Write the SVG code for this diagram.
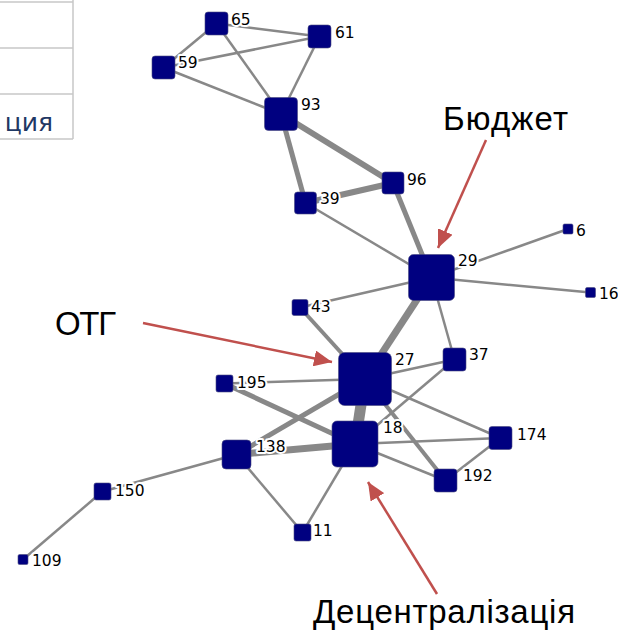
<svg xmlns="http://www.w3.org/2000/svg" width="618" height="632" viewBox="0 0 618 632">
<style>
.e{stroke:#888;stroke-linecap:butt;fill:none}
.w2{stroke-width:2.5}
.w4{stroke-width:4}
.w5{stroke-width:5}
.w6{stroke-width:6}
.w7{stroke-width:7}
.w11{stroke-width:11}
.n{fill:#000080;stroke:#4a4a80;stroke-width:0.6}
.l{font-family:"DejaVu Sans","Liberation Sans",sans-serif;font-size:15.5px;fill:#000;stroke:#fff;stroke-width:4;stroke-linejoin:round;paint-order:stroke}
.big{font-family:"Liberation Sans",Arial,sans-serif;font-size:33px;fill:#000}
.arr{stroke:#C0504D;stroke-width:2.5;fill:none}
.tb{stroke:#c8c8c8;stroke-width:1.5;fill:none}
</style>
<defs>
<marker id="ah" markerUnits="userSpaceOnUse" markerWidth="20" markerHeight="16" refX="18" refY="8" orient="auto">
<path d="M0,0 L18,8 L0,16 Z" fill="#C0504D"/>
</marker>
</defs>
<rect width="618" height="632" fill="#fff"/>
<g id="table">
<path class="tb" d="M0,2 H73 M0,48 H73 M0,94 H73 M0,139 H73 M73,0 V139"/>
<text x="53" y="131" text-anchor="end" font-family="'DejaVu Sans','Open Sans',sans-serif" font-size="25" fill="#1F3864">ция</text>
</g>
<g id="connectors">
<line class="e w2" x1="216.5" y1="23.5" x2="163.5" y2="67.5"/>
<line class="e w2" x1="216.5" y1="23.5" x2="319.5" y2="36.5"/>
<line class="e w2" x1="216.5" y1="23.5" x2="281" y2="114"/>
<line class="e w2" x1="163.5" y1="67.5" x2="319.5" y2="36.5"/>
<line class="e w2" x1="163.5" y1="67.5" x2="281" y2="114"/>
<line class="e w2" x1="319.5" y1="36.5" x2="281" y2="114"/>
<line class="e w5" x1="281" y1="114" x2="305.5" y2="203"/>
<line class="e w6" x1="281" y1="114" x2="393" y2="183"/>
<line class="e w6" x1="305.5" y1="203" x2="393" y2="183"/>
<line class="e w2" x1="305.5" y1="203" x2="431.5" y2="277.5"/>
<line class="e w5" x1="393" y1="183" x2="431.5" y2="277.5"/>
<line class="e w2" x1="431.5" y1="277.5" x2="568" y2="229"/>
<line class="e w2" x1="431.5" y1="277.5" x2="590.5" y2="292.5"/>
<line class="e w2" x1="431.5" y1="277.5" x2="300" y2="307.5"/>
<line class="e w7" x1="431.5" y1="277.5" x2="365" y2="379"/>
<line class="e w2" x1="431.5" y1="277.5" x2="454.5" y2="359.5"/>
<line class="e w4" x1="300" y1="307.5" x2="365" y2="379"/>
<line class="e w2" x1="365" y1="379" x2="454.5" y2="359.5"/>
<line class="e w2" x1="365" y1="379" x2="224.5" y2="383.5"/>
<line class="e w11" x1="365" y1="379" x2="355" y2="444"/>
<line class="e w5" x1="365" y1="379" x2="236.5" y2="454.5"/>
<line class="e w2" x1="365" y1="379" x2="500.5" y2="438"/>
<line class="e w4" x1="365" y1="379" x2="445.5" y2="480.5"/>
<line class="e w5" x1="224.5" y1="383.5" x2="355" y2="444"/>
<line class="e w2" x1="454.5" y1="359.5" x2="355" y2="444"/>
<line class="e w7" x1="355" y1="444" x2="236.5" y2="454.5"/>
<line class="e w2" x1="355" y1="444" x2="500.5" y2="438"/>
<line class="e w2" x1="355" y1="444" x2="445.5" y2="480.5"/>
<line class="e w2" x1="355" y1="444" x2="302.5" y2="532.5"/>
<line class="e w2" x1="500.5" y1="438" x2="445.5" y2="480.5"/>
<line class="e w2" x1="236.5" y1="454.5" x2="102.5" y2="491.5"/>
<line class="e w2" x1="236.5" y1="454.5" x2="302.5" y2="532.5"/>
<line class="e w2" x1="102.5" y1="491.5" x2="23" y2="559.5"/>
</g>
<g id="n65"><rect class="n" x="205" y="12" width="23" height="23" rx="3"/><text class="l" x="231" y="25">65</text></g>
<g id="n61"><rect class="n" x="308" y="25" width="23" height="23" rx="3"/><text class="l" x="335" y="38">61</text></g>
<g id="n59"><rect class="n" x="152" y="56" width="23" height="23" rx="3"/><text class="l" x="178" y="68">59</text></g>
<g id="n93"><rect class="n" x="264.5" y="97.5" width="33" height="33" rx="4"/><text class="l" x="301" y="110">93</text></g>
<g id="n96"><rect class="n" x="382" y="172" width="22" height="22" rx="3"/><text class="l" x="407" y="185">96</text></g>
<g id="n39"><rect class="n" x="294.5" y="192" width="22" height="22" rx="3"/><text class="l" x="320" y="204">39</text></g>
<g id="n29"><rect class="n" x="408.5" y="254.5" width="46" height="46" rx="5"/><text class="l" x="458" y="266">29</text></g>
<g id="n6"><rect class="n" x="563" y="224" width="10" height="10" rx="1.5"/><text class="l" x="576" y="236">6</text></g>
<g id="n16"><rect class="n" x="585.5" y="287.5" width="10" height="10" rx="1.5"/><text class="l" x="599" y="299">16</text></g>
<g id="n43"><rect class="n" x="292" y="299.5" width="16" height="16" rx="2"/><text class="l" x="311" y="312">43</text></g>
<g id="n27"><rect class="n" x="338.5" y="352.5" width="53" height="53" rx="6"/><text class="l" x="395" y="365">27</text></g>
<g id="n37"><rect class="n" x="443" y="348" width="23" height="23" rx="3"/><text class="l" x="469" y="360">37</text></g>
<g id="n195"><rect class="n" x="216" y="375" width="17" height="17" rx="2"/><text class="l" x="237" y="388">195</text></g>
<g id="n18"><rect class="n" x="332" y="421" width="46" height="46" rx="5"/><text class="l" x="383" y="433">18</text></g>
<g id="n138"><rect class="n" x="222" y="440" width="29" height="29" rx="4"/><text class="l" x="256" y="452">138</text></g>
<g id="n174"><rect class="n" x="489" y="426.5" width="23" height="23" rx="3"/><text class="l" x="517" y="440">174</text></g>
<g id="n192"><rect class="n" x="434" y="469" width="23" height="23" rx="3"/><text class="l" x="463" y="481">192</text></g>
<g id="n150"><rect class="n" x="94" y="483" width="17" height="17" rx="2"/><text class="l" x="115" y="496">150</text></g>
<g id="n11"><rect class="n" x="294" y="524" width="17" height="17" rx="2"/><text class="l" x="313" y="536">11</text></g>
<g id="n109"><rect class="n" x="18" y="554.5" width="10" height="10" rx="1.5"/><text class="l" x="32" y="566">109</text></g>
<g id="annotations">
<line class="arr" x1="486" y1="140" x2="438" y2="248" marker-end="url(#ah)"/>
<line class="arr" x1="143" y1="323" x2="332" y2="362" marker-end="url(#ah)"/>
<line class="arr" x1="437" y1="594" x2="368" y2="482" marker-end="url(#ah)"/>
<text class="big" x="443" y="130" textLength="125">Бюджет</text>
<text class="big" x="55" y="335" textLength="61">ОТГ</text>
<text class="big" x="313" y="623" textLength="262">Децентралізація</text>
</g>
</svg>
